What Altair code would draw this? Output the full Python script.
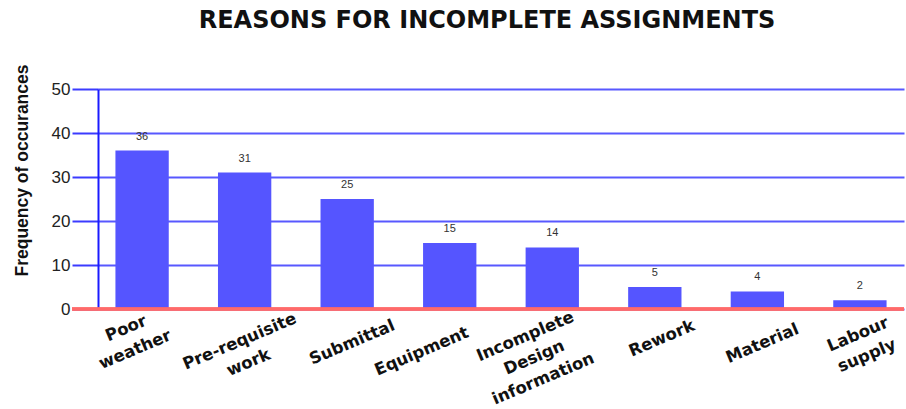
import altair as alt
import pandas as pd

categories = ["Poor|weather", "Pre-requisite|work", "Submittal", "Equipment",
              "Incomplete|Design|information", "Rework", "Material", "Labour|supply"]
counts = [36, 31, 25, 15, 14, 5, 4, 2]
y_ticks = [0, 10, 20, 30, 40, 50]

# per-label placement tweaks (padding below axis, shift along axis)
label_pads = [19, 32, 33, 42, 27, 29, 34, 25]
label_offs = [-16, -5, 5, -28, -27, 7, 5, -2]

df = pd.DataFrame({"reason": categories, "count": counts})

FONT = "Liberation Sans"
WIDE = "DejaVu Sans"
BLUE = "#3b3bff"

base = alt.Chart(df)


def per_label(vals):
    return {
        "condition": [{"test": f"datum.value == '{c}'", "value": v}
                      for c, v in zip(categories, vals)],
        "value": 0,
    }


x_enc = alt.X("reason:N", sort=categories,
              scale=alt.Scale(paddingInner=0.48, paddingOuter=0.17),
              axis=alt.Axis(title=None, labelAngle=-23, labelAlign="center",
                            labelBaseline="middle", labelFont=WIDE, labelFontSize=16.5,
                            labelFontWeight="bold", labelColor="#111",
                            labelExpr="split(datum.value, '|')", labelLineHeight=23,
                            labelPadding=per_label(label_pads),
                            labelOffset=per_label(label_offs),
                            ticks=False, domain=False, labelOverlap=False))

y_enc = alt.Y("count:Q", scale=alt.Scale(domain=[0, 50], nice=False),
              axis=alt.Axis(values=y_ticks, title="Frequency of occurances",
                            titleFont=FONT, titleFontSize=17.5, titleFontWeight="bold",
                            titleColor="#111", titleAngle=-90, titleX=-76, titleY=81,
                            titleAlign="center", titleBaseline="middle",
                            labelFont=FONT, labelFontSize=17, labelColor="#222",
                            labelPadding=2, tickSize=26, tickColor=BLUE, tickWidth=2,
                            domainColor="#1a1aff", domainWidth=2,
                            grid=True, gridColor=BLUE, gridWidth=2, gridOpacity=0.85))

bars = base.mark_bar(color="#5555ff").encode(x=x_enc, y=y_enc)

zero = base.mark_rule(color="#ff6a6a", strokeWidth=2.5).encode(
    y=alt.datum(0), x=alt.value(-26), x2=alt.value(806))

labels = base.mark_text(baseline="bottom", dy=-9, font=FONT, fontSize=11,
                        color="#333").encode(
    x=alt.X("reason:N", sort=categories), y="count:Q", text="count:Q")

chart = alt.layer(bars, zero, labels).properties(
    width=806, height=220,
    title=alt.TitleParams("REASONS FOR INCOMPLETE ASSIGNMENTS", font=WIDE, fontSize=24,
                          fontWeight="bold", color="#111", anchor="middle", dx=-14,
                          offset=31),
    autosize=alt.AutoSizeParams(type="none"),
    padding={"left": 98, "top": 89, "right": 2, "bottom": 100},
).configure_view(stroke=None)

chart.save("out.html", embed_options={"renderer": "svg", "actions": False})
